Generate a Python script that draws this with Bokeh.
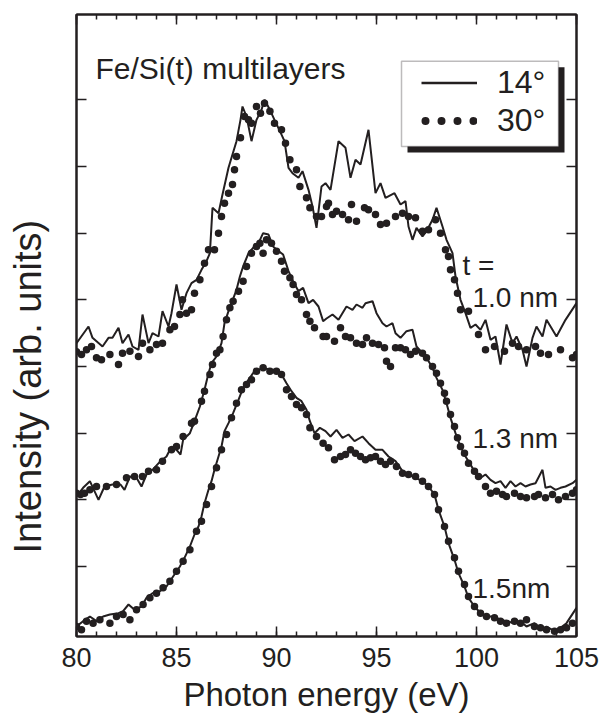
from bokeh.plotting import figure
from bokeh.models import (Range1d, LinearAxis, FixedTicker, SingleIntervalTicker,
                          Legend, LegendItem, Label, BoxAnnotation, CustomLabelingPolicy,
                          Title)
from bokeh.embed import file_html
from bokeh.resources import INLINE

INK = "#231f20"
FONT = "Liberation Sans"
NAN = float("nan")

# ---------------- data ----------------
y_ticks = [1, 2, 3, 4, 5, 6, 7, 8]

# t = 1.0 nm, 14 deg (solid)
e10_s = [80.0, 80.6, 80.8, 81.3, 81.6, 81.8, 82.1, 82.3, 82.6, 82.8, 83.1, 83.3, 83.6, 83.8,
         84.1, 84.3, 84.6, 84.75, 85.0, 85.25, 85.5, 85.75, 86.0, 86.25, 86.5, 86.67, 86.8,
         87.1, 87.3, 87.6, 87.75, 88.0, 88.2, 88.3, 88.5, 88.75, 89.0, 89.25, 89.4, 89.67,
         89.9, 90.17, 90.4, 90.6, 90.8, 91.1, 91.3, 91.6, 91.8, 92.0, 92.25, 92.45, 92.7,
         93.1, 93.45, 93.7, 93.95, 94.2, 94.6, 94.95, 95.2, 95.45, 95.9, 96.2, 96.45, 96.6,
         96.8, 97.0, 97.3, 97.5, 97.8, 98.0, 98.3, 98.5, 98.8, 98.95, 99.2, 99.45, 99.7,
         99.95, 100.2, 100.45, 100.7, 100.95, 101.2, 101.5, 101.8, 102.0, 102.3, 102.5,
         102.8, 103.0, 103.3, 103.5, 103.8, 104.0, 104.45, 105.0]
i10_s = [4.35, 4.6, 4.43, 4.3, 4.43, 4.43, 4.58, 4.35, 4.48, 4.3, 4.25, 4.78, 4.35, 4.5,
         4.45, 4.83, 4.6, 4.8, 5.23, 4.85, 5.1, 5.25, 5.3, 5.45, 5.58, 5.7, 6.38,
         6.3, 6.58, 6.98, 7.13, 7.38, 7.7, 7.9, 7.75, 7.38, 7.7, 7.85, 8.0, 7.85,
         7.7, 7.53, 7.38, 6.98, 6.9, 6.83, 6.93, 6.65, 6.4, 6.08, 6.7, 6.75, 6.65,
         7.38, 7.28, 6.83, 7.1, 7.03, 7.55, 6.6, 6.75, 6.53, 6.6, 6.43, 6.48, 6.1,
         5.9, 6.08, 5.95, 6.03, 6.2, 6.38, 6.1, 5.9, 5.7, 5.35, 5.0, 4.8, 4.58,
         4.63, 4.55, 4.7, 4.4, 4.45, 4.03, 4.63, 4.35, 4.45, 4.25, 4.0,
         4.43, 4.6, 4.45, 4.7, 4.55, 4.45, 4.7, 4.95]

# t = 1.0 nm, 30 deg (dots)
e10_d = [80.0, 80.25, 80.5, 80.75, 81.0, 81.25, 81.67, 82.1, 82.3, 82.67, 83.1, 83.3, 83.67,
         84.0, 84.3, 84.67, 84.9, 85.17, 85.3, 85.5, 85.75, 85.9, 86.17, 86.4, 86.6, 86.9,
         87.1, 87.25, 87.4, 87.6, 87.8, 87.9, 88.0, 88.2, 88.4, 88.6, 88.75, 89.0, 89.2,
         89.4, 89.67, 89.9, 90.25, 90.45, 90.67, 91.0, 91.17, 91.5, 91.67, 92.0, 92.25,
         92.5, 92.6, 92.8, 93.0, 93.3, 93.6, 93.75, 94.0, 94.4, 94.6, 94.95, 95.2, 95.5,
         95.95, 96.3, 96.6, 96.95, 97.3, 97.6, 97.95, 98.2, 98.45, 98.6, 98.7, 98.9, 99.05,
         99.2, 99.6, 100.1, 100.45, 100.9, 101.4, 101.8, 102.1, 102.5, 102.95, 103.2,
         103.6, 104.2, 104.8, 105.0]
i10_d = [4.22, 4.18, 4.25, 4.3, 4.13, 4.1, 4.18, 4.03, 4.2, 4.23, 4.15, 4.35, 4.25,
         4.33, 4.35, 4.55, 4.6, 4.78, 5.0, 4.8, 4.85, 5.1, 5.3, 5.55, 5.75, 5.75,
         6.0, 6.25, 6.45, 6.6, 6.73, 6.95, 7.15, 7.43, 7.75, 7.7, 7.65, 7.9, 7.8,
         7.95, 7.83, 7.65, 7.55, 7.35, 7.1, 6.95, 6.7, 6.53, 6.38, 6.25, 6.25,
         6.4, 6.45, 6.28, 6.33, 6.28, 6.2, 6.43, 6.18, 6.38, 6.35, 6.28, 6.13, 6.15,
         6.25, 6.3, 6.25, 6.23, 6.03, 6.05, 6.2, 6.0, 5.75, 5.65, 5.45, 5.3, 5.1,
         4.85, 4.83, 4.48, 4.25, 4.3, 4.23, 4.35, 4.3, 4.25, 4.3, 4.2,
         4.18, 4.25, 4.13, 4.18]

# t = 1.3 nm, 14 deg (solid)
e13_s = [80.0, 80.33, 80.67, 80.9, 81.1, 81.4, 81.8, 82.2, 82.4, 82.67, 83.0, 83.25, 83.5,
         83.8, 84.2, 84.5, 84.75, 85.0, 85.2, 85.33, 85.67, 85.9, 86.17, 86.4, 86.6, 86.75,
         87.0, 87.25, 87.4, 87.6, 87.75, 88.0, 88.17, 88.33, 88.6, 88.83, 89.1, 89.33, 89.6,
         89.83, 90.1, 90.33, 90.6, 90.83, 91.1, 91.33, 91.6, 91.83, 92.1, 92.33, 92.5, 92.8,
         93.1, 93.5, 93.8, 94.0, 94.3, 94.45, 94.8, 95.0, 95.3, 95.5, 95.8, 95.95, 96.2,
         96.5, 96.8, 97.0, 97.3, 97.5, 97.8, 98.0, 98.3, 98.5, 98.7, 98.95, 99.2, 99.45,
         99.7, 99.95, 100.2, 100.45, 100.7, 100.95, 101.2, 101.45, 101.7, 101.95, 102.2,
         102.45, 102.7, 102.95, 103.3, 103.45, 103.7, 103.95, 104.2, 104.45, 104.8, 105.0]
i13_s = [2.05, 2.18, 2.28, 2.13, 2.0, 2.2, 2.23, 2.23, 2.15, 2.35, 2.33, 2.2, 2.38,
         2.45, 2.58, 2.65, 2.8, 2.75, 2.68, 2.9, 3.0, 3.18, 3.4, 3.65, 3.9, 4.05,
         4.15, 4.35, 4.65, 4.83, 4.95, 5.15, 5.35, 5.5, 5.7, 5.78, 5.85, 6.0, 5.98,
         5.8, 5.73, 5.68, 5.43, 5.28, 5.13, 5.18, 4.95, 5.0, 4.9, 4.68, 4.72, 4.78,
         4.7, 4.9, 4.85, 4.93, 4.88, 4.95, 4.98, 4.8, 4.65, 4.6, 4.65, 4.5, 4.43,
         4.53, 4.55, 4.3, 4.2, 4.13, 3.98, 3.83, 3.65, 3.45, 3.23, 3.0, 2.8, 2.65,
         2.53, 2.4, 2.33, 2.38, 2.3, 2.25, 2.28, 2.18, 2.28, 2.2, 2.25,
         2.2, 2.23, 2.25, 2.45, 2.18, 2.2, 2.15, 2.18, 2.2, 2.25, 2.3]

# t = 1.3 nm, 30 deg (dots)
e13_d = [80.0, 80.2, 80.4, 80.67, 81.0, 81.5, 82.0, 82.5, 82.9, 83.3, 83.6, 84.0, 84.3,
         84.75, 85.0, 85.33, 85.75, 85.9, 86.25, 86.4, 86.67, 86.8, 87.0, 87.17, 87.33,
         87.5, 87.67, 87.83, 88.1, 88.33, 88.5, 88.75, 89.0, 89.17, 89.33, 89.5, 89.75,
         90.0, 90.25, 90.4, 90.67, 90.83, 91.0, 91.25, 91.5, 91.67, 91.9, 92.33, 92.5,
         92.9, 93.2, 93.45, 93.7, 94.0, 94.3, 94.5, 94.8, 95.1, 95.4, 95.5, 95.7, 95.95,
         96.2, 96.45, 96.7, 96.95, 97.3, 97.5, 97.8, 98.0, 98.2, 98.4, 98.5, 98.7, 98.9,
         99.05, 99.2, 99.4, 99.6, 99.9, 100.1, 100.45, 100.7, 101.0, 101.3, 101.5, 101.9,
         102.2, 102.5, 102.9, 103.1, 103.45, 103.8, 104.1, 104.45, 104.8, 105.0]
i13_d = [2.1, 2.08, 2.1, 2.15, 2.2, 2.2, 2.23, 2.33, 2.35, 2.35, 2.43, 2.45, 2.58,
         2.75, 2.8, 2.95, 3.15, 3.18, 3.48, 3.63, 3.88, 4.03, 4.2, 4.25, 4.45,
         4.7, 4.88, 4.98, 5.13, 5.28, 5.5, 5.7, 5.8, 5.85, 5.7, 5.9, 5.85,
         5.73, 5.58, 5.43, 5.33, 5.23, 5.08, 5.0, 4.78, 4.68, 4.58, 4.45, 4.45,
         4.38, 4.58, 4.45, 4.43, 4.35, 4.33, 4.43, 4.35, 4.33, 4.28, 4.08, 4.0, 4.28,
         4.28, 4.25, 4.18, 4.23, 4.2, 4.13, 4.0, 3.9, 3.75, 3.6, 3.48, 3.28, 3.1,
         2.93, 2.8, 2.7, 2.55, 2.43, 2.35, 2.2, 2.1, 2.13, 2.08, 2.05, 2.1,
         2.05, 2.03, 2.05, 2.08, 2.03, 2.08, 2.0, 2.05, 2.1, 2.15]

# t = 1.5 nm, 14 deg (solid)
e15_s = [80.0, 80.33, 80.67, 81.0, 81.33, 81.67, 82.1, 82.33, 82.6, 82.9, 83.25, 83.5, 83.8,
         84.17, 84.5, 84.83, 85.17, 85.4, 85.67, 85.9, 86.1, 86.25, 86.4, 86.6, 86.75, 86.9,
         87.1, 87.25, 87.4, 87.6, 87.83, 88.1, 88.33, 88.6, 88.83, 89.1, 89.33, 89.67, 90.0,
         90.25, 90.5, 90.75, 91.0, 91.25, 91.5, 91.67, 91.9, 92.17, 92.45, 92.7, 93.0, 93.3,
         93.6, 93.9, 94.3, 94.6, 94.95, 95.3, 95.6, 95.95, 96.3, 96.6, 96.95, 97.3, 97.6,
         97.9, 98.1, 98.4, 98.6, 98.9, 99.1, 99.4, 99.6, 99.9, 100.2, 100.5, 100.9, 101.2,
         101.5, 101.9, 102.2, 102.5, 102.9, 103.2, 103.5, 103.9, 104.2, 104.5, 105.0]
i15_s = [0.1, 0.18, 0.25, 0.18, 0.25, 0.28, 0.3, 0.33, 0.43, 0.35, 0.4, 0.53, 0.6,
         0.63, 0.7, 0.85, 1.0, 1.13, 1.3, 1.48, 1.6, 1.75, 1.95, 2.15, 2.28, 2.45,
         2.65, 2.8, 3.03, 3.15, 3.3, 3.5, 3.68, 3.8, 3.9, 3.95, 3.98, 3.95, 3.95,
         3.88, 3.75, 3.63, 3.53, 3.48, 3.35, 3.18, 3.0, 3.08, 3.03, 2.95, 3.05, 2.93,
         2.98, 2.88, 2.95, 2.85, 2.75, 2.75, 2.65, 2.58, 2.43, 2.38, 2.33, 2.28, 2.2,
         2.08, 1.85, 1.6, 1.35, 1.1, 0.9, 0.7, 0.53, 0.4, 0.3, 0.25, 0.25, 0.2,
         0.18, 0.15, 0.18, 0.1, 0.15, 0.05, 0.1, 0.03, 0.08, 0.15, 0.38]

# t = 1.5 nm, 30 deg (dots)
e15_d = [80.0, 80.25, 80.5, 80.83, 81.17, 81.67, 82.0, 82.33, 82.67, 83.0, 83.33, 83.67,
         84.0, 84.33, 84.67, 85.0, 85.33, 85.67, 86.0, 86.25, 86.5, 86.75, 87.0, 87.25,
         87.5, 87.75, 88.0, 88.25, 88.5, 88.75, 89.0, 89.33, 89.67, 90.0, 90.25, 90.5,
         90.75, 91.0, 91.25, 91.5, 91.67, 92.0, 92.33, 92.6, 92.9, 93.2, 93.45, 93.7,
         93.95, 94.2, 94.45, 94.7, 94.95, 95.2, 95.45, 95.7, 96.0, 96.3, 96.6, 96.95,
         97.3, 97.6, 97.9, 98.1, 98.4, 98.6, 98.9, 99.1, 99.4, 99.6, 99.9, 100.2, 100.5,
         100.9, 101.2, 101.5, 101.9, 102.2, 102.5, 102.9, 103.2, 103.5, 103.9, 104.2,
         104.5, 104.8]
i15_d = [0.1, 0.05, 0.18, 0.15, 0.2, 0.15, 0.25, 0.28, 0.2, 0.35, 0.43, 0.53,
         0.6, 0.68, 0.78, 0.93, 1.08, 1.25, 1.53, 1.68, 1.93, 2.2, 2.48, 2.75,
         2.98, 3.23, 3.45, 3.65, 3.73, 3.8, 3.93, 3.98, 3.93, 3.93, 3.88, 3.65,
         3.55, 3.43, 3.38, 3.28, 3.08, 2.95, 2.85, 2.78, 2.6, 2.65, 2.68, 2.75,
         2.7, 2.65, 2.6, 2.63, 2.65, 2.58, 2.53, 2.58, 2.5, 2.4, 2.38, 2.35,
         2.28, 2.2, 2.08, 1.85, 1.6, 1.38, 1.13, 0.93, 0.73, 0.55, 0.4, 0.3, 0.25,
         0.23, 0.18, 0.15, 0.18, 0.15, 0.2, 0.1, 0.08, 0.05, 0.03, 0.05,
         0.08, 0.15]

thickness_labels = ["1.0 nm", "1.3 nm", "1.5nm"]
legend_labels = ["14\u00b0", "30\u00b0"]

# ---------------- figure ----------------
p = figure(width=600, height=715, output_backend="svg", toolbar_location=None,
           x_range=Range1d(80, 105), y_range=Range1d(-0.05, 9.28),
           min_border_left=76, min_border_right=24, min_border_top=14,
           min_border_bottom=78, x_axis_location="below", y_axis_location="left")
p.grid.visible = False
p.outline_line_color = INK
p.outline_line_width = 2
p.background_fill_color = "white"
p.border_fill_color = "white"

xt = SingleIntervalTicker(interval=5, num_minor_ticks=5)
yt = FixedTicker(ticks=y_ticks, minor_ticks=[])

no_labels = CustomLabelingPolicy(
    code="for (let i = 0; i < indices.size; i++) { indices.unset(i) } return indices")


def style_axis(ax, labels=True):
    ax.axis_line_color = INK
    ax.axis_line_width = 2
    ax.major_tick_line_color = INK
    ax.minor_tick_line_color = INK
    ax.major_tick_line_width = 1.5
    ax.minor_tick_line_width = 1.5
    ax.major_tick_in = 10
    ax.major_tick_out = 0
    ax.minor_tick_in = 5
    ax.minor_tick_out = 0
    if labels:
        ax.major_label_text_font = FONT
        ax.major_label_text_font_size = "27px"
        ax.major_label_text_color = INK
    else:
        ax.major_label_text_font_size = "0px"
        ax.major_label_standoff = 0
        ax.major_label_policy = no_labels


xa = p.xaxis[0]
xa.ticker = xt
style_axis(xa)
xa.major_label_standoff = 11
xa.axis_label = "Photon energy (eV)"
xa.axis_label_text_font = FONT
xa.axis_label_text_font_size = "33px"
xa.axis_label_text_font_style = "normal"
xa.axis_label_text_color = INK
xa.axis_label_standoff = 6

ya = p.yaxis[0]
ya.ticker = yt
style_axis(ya, labels=False)

top = LinearAxis(ticker=xt)
style_axis(top, labels=False)
p.add_layout(top, "above")

right = LinearAxis(ticker=yt)
style_axis(right, labels=False)
p.add_layout(right, "right")

# invisible spacer axis: keeps the y title away from the frame
spacer = LinearAxis(ticker=yt, axis_line_color=None, major_tick_line_color=None,
                    minor_tick_line_color=None, major_tick_in=0, major_tick_out=28,
                    minor_tick_in=0, minor_tick_out=0, major_label_text_font_size="0px",
                    major_label_standoff=0, major_label_policy=no_labels)
p.add_layout(spacer, "left")

# y axis title (shifted down along the axis as in the original)
ytitle = Title(text="Intensity (arb. units)", align="left", offset=83, standoff=0,
               text_font=FONT, text_font_size="38px", text_font_style="normal",
               text_color=INK)
p.add_layout(ytitle, "left")

# curves
for es, is_, ed, id_ in [(e10_s, i10_s, e10_d, i10_d),
                         (e13_s, i13_s, e13_d, i13_d),
                         (e15_s, i15_s, e15_d, i15_d)]:
    p.line(es, is_, line_color=INK, line_width=2)
    p.scatter(ed, id_, size=7.5, fill_color=INK, line_color=None)

# legend (box with drop shadow)
shadow = BoxAnnotation(left=96.55, right=104.4, top=8.49, bottom=7.21,
                       fill_color=INK, fill_alpha=1, line_color=None)
box = BoxAnnotation(left=96.25, right=104.1, top=8.58, bottom=7.3,
                    fill_color="white", fill_alpha=1, line_color=INK, line_width=1.5)
p.add_layout(shadow)
p.add_layout(box)

r_leg_line = p.line([NAN], [NAN], line_color=INK, line_width=2.5)
r_leg_dots = p.line([NAN], [NAN], line_color=INK, line_width=8, line_dash="0 16",
                    line_dash_offset=12, line_cap="round")
legend = Legend(items=[LegendItem(label=legend_labels[0], renderers=[r_leg_line]),
                       LegendItem(label=legend_labels[1], renderers=[r_leg_dots])],
                location=(345, 497), padding=0, margin=0, spacing=1,
                glyph_width=56, glyph_height=37, label_height=37, label_standoff=20,
                label_text_font=FONT, label_text_font_size="32px",
                label_text_color=INK, label_text_baseline="middle",
                border_line_color=None, background_fill_alpha=0)
p.add_layout(legend)

# text annotations
p.add_layout(Label(x=80.95, y=8.47, text="Fe/Si(t) multilayers", text_font=FONT,
                   text_font_size="30px", text_color=INK, text_baseline="alphabetic"))
p.add_layout(Label(x=99.3, y=5.52, text="t =", text_font=FONT,
                   text_font_size="28px", text_color=INK, text_baseline="alphabetic"))
for txt, yy in zip(thickness_labels, [5.04, 2.92, 0.67]):
    p.add_layout(Label(x=99.8, y=yy, text=txt, text_font=FONT, text_font_size="28px",
                       text_color=INK, text_baseline="alphabetic"))

open("out.html", "w").write(file_html(p, INLINE))
